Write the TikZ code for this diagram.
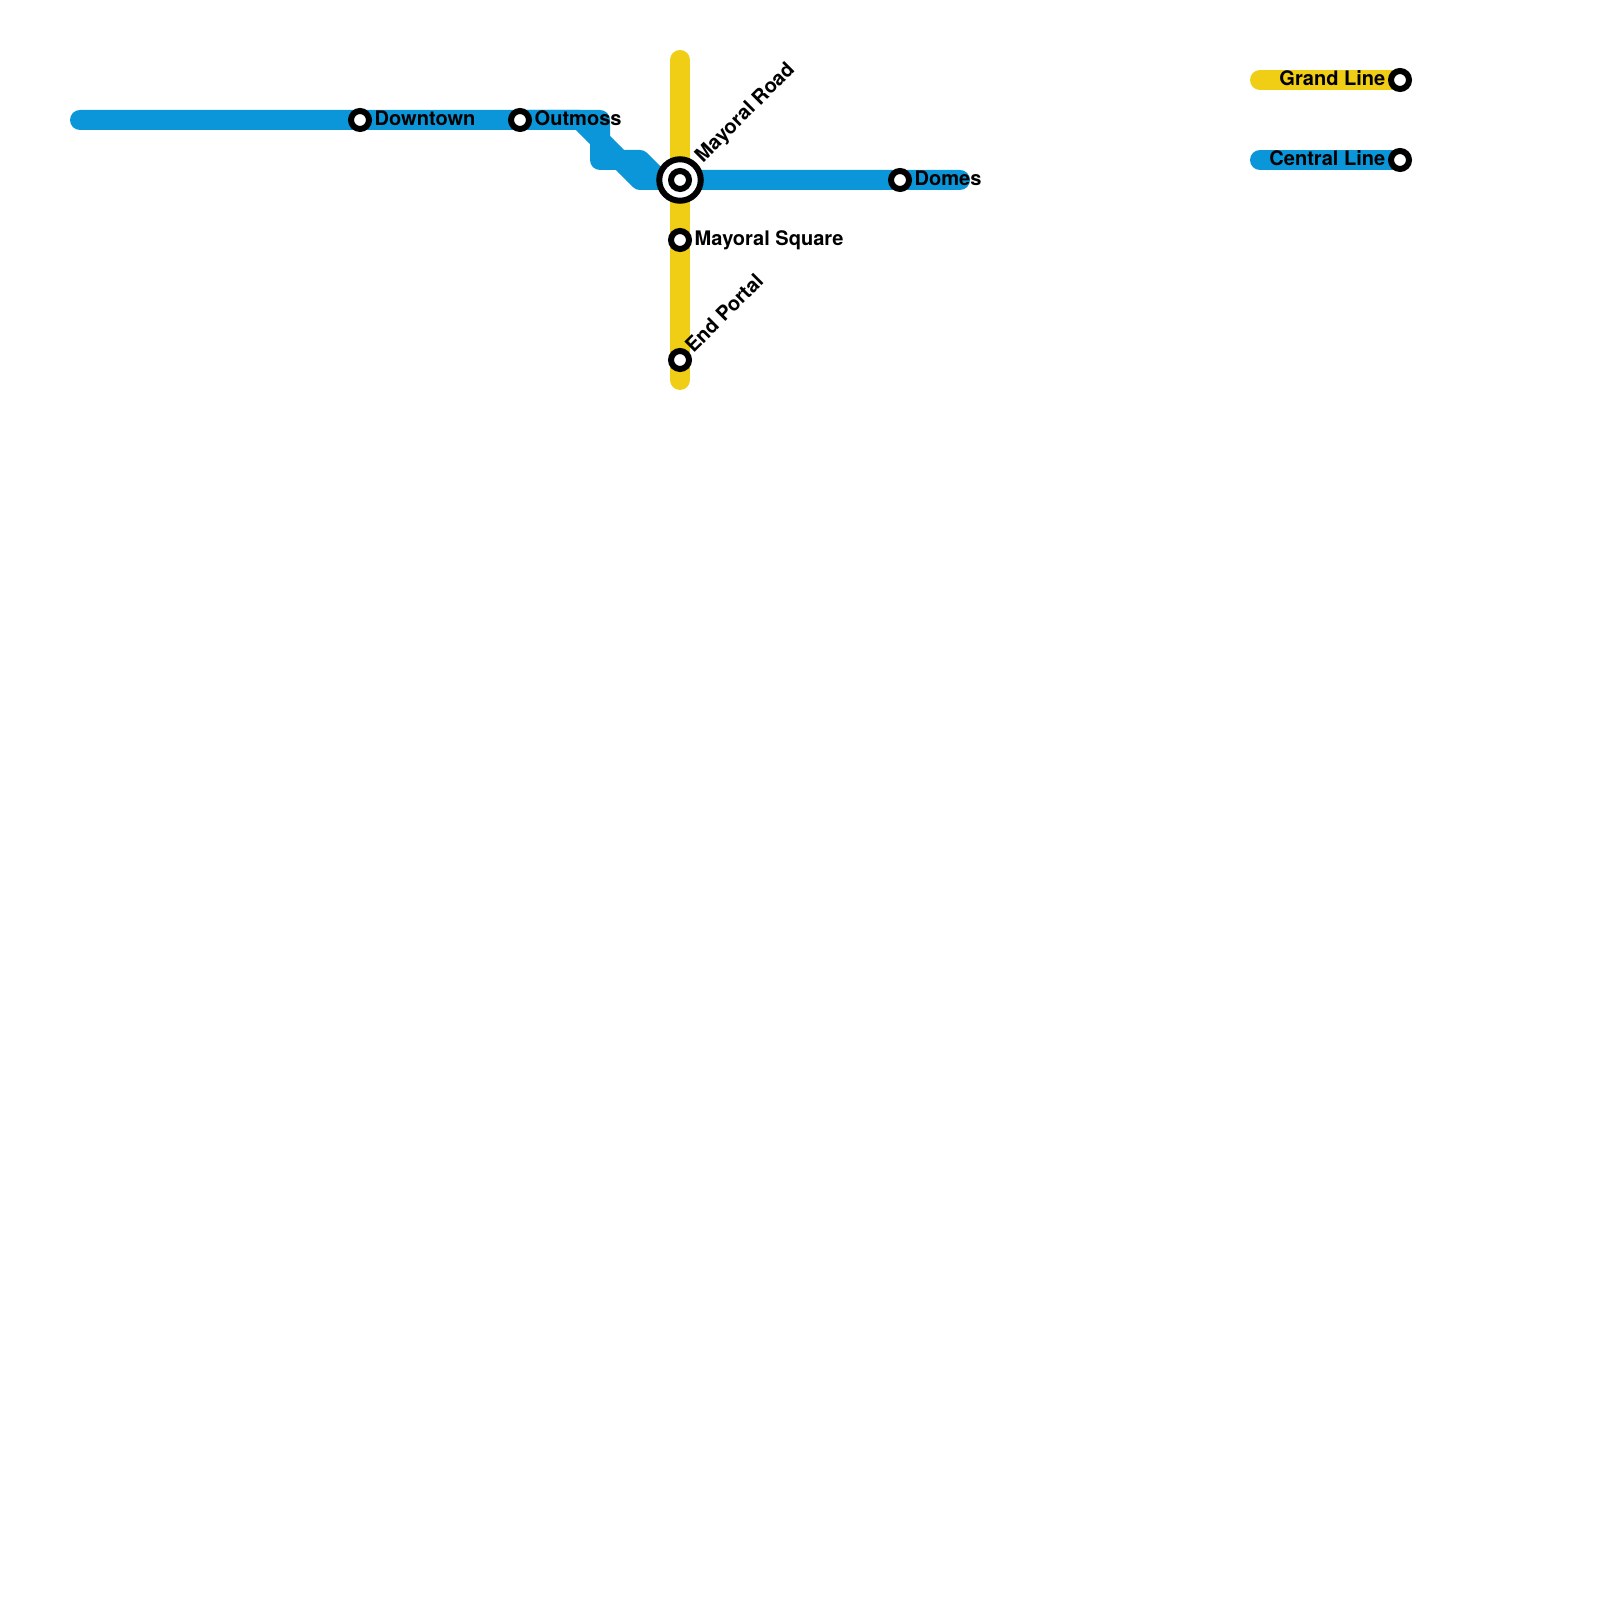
\documentclass[tikz,border=0pt]{standalone}
\usepackage{fontspec}
\setmainfont{TeX Gyre Heros}
\usepackage{xcolor}
\usetikzlibrary{positioning}
\definecolor{lineBlue}{HTML}{0A96D9}
\definecolor{lineYellow}{HTML}{F0CE15}
\tikzset{
  railline/.style={line width=2mm,line cap=round,line join=round},
  stn/.style={circle,draw=black,fill=white,line width=0.6mm,minimum size=1.8mm,inner sep=0pt,outer sep=0pt},
  interchange/.style={circle,draw=black,fill=white,line width=0.6mm,minimum size=4.15mm,inner sep=0pt,outer sep=0pt},
  stnlab/.style={font=\fontsize{5.7pt}{7pt}\selectfont\bfseries,inner sep=0pt,text=black}
}

\begin{document}
\begin{tikzpicture}[x=1cm,y=-1cm]
  \useasboundingbox (0,0) rectangle (16,16);
  % station and junction points
  \foreach \nm/\x/\y in {downtown/3.6/1.2,outmoss/5.2/1.2,mayoralroad/6.8/1.8,domes/9/1.8,
    mayoralsquare/6.8/2.4,endportal/6.8/3.6,grandkey/14/0.8,centralkey/14/1.6}{
    \coordinate (\nm) at (\x,\y);
  }
  \coordinate (grandtop) at (6.8,0.6);
  \coordinate (grandend) at (6.8,3.8);
  \coordinate (centralstart) at (0.8,1.2);
  \coordinate (centralend) at (9.6,1.8);

  % lines
  \draw[railline,lineYellow] (grandtop) -- (mayoralroad) -- (mayoralsquare) -- (endportal) -- (grandend);
  \draw[railline,lineBlue] (centralstart) -- (downtown) -- (outmoss) -- (6,1.2) -- (6,1.6) -- (6.2,1.6) -- (6.4,1.8) -- (mayoralroad) -- (domes) -- (centralend);
  \draw[railline,lineBlue] (outmoss) -- (5.8,1.2) -- (6.2,1.6) -- (6.4,1.6) -- (6.6,1.8) -- (mayoralroad);

  % legend
  \draw[railline,lineYellow] (12.6,0.8) -- (grandkey);
  \draw[railline,lineBlue] (12.6,1.6) -- (centralkey);

  % stations
  \node[interchange] (mayoralring) at (mayoralroad) {};
  \foreach \nm in {downtown,outmoss,mayoralroad,domes,mayoralsquare,endportal,grandkey,centralkey}{
    \node[stn] (\nm stn) at (\nm) {};
  }

  % labels
  \foreach \nm/\x/\y/\lab in {downtown/3.74/1.18/Downtown,outmoss/5.34/1.18/Outmoss,
    domes/9.14/1.78/Domes,mayoralsquare/6.94/2.40/Mayoral Square}{
    \node[stnlab,anchor=west] (\nm lab) at (\x,\y) {\lab};
  }
  \node[stnlab,anchor=west,rotate=45] (mayoralroadlab) at (6.99,1.60) {Mayoral Road};
  \node[stnlab,anchor=west,rotate=45] (endportallab) at (6.88,3.49) {End Portal};
  \node[stnlab,anchor=east] (grandlab) at (13.86,0.78) {Grand Line};
  \node[stnlab,anchor=east] (centrallab) at (13.86,1.58) {Central Line};
\end{tikzpicture}
\end{document}
